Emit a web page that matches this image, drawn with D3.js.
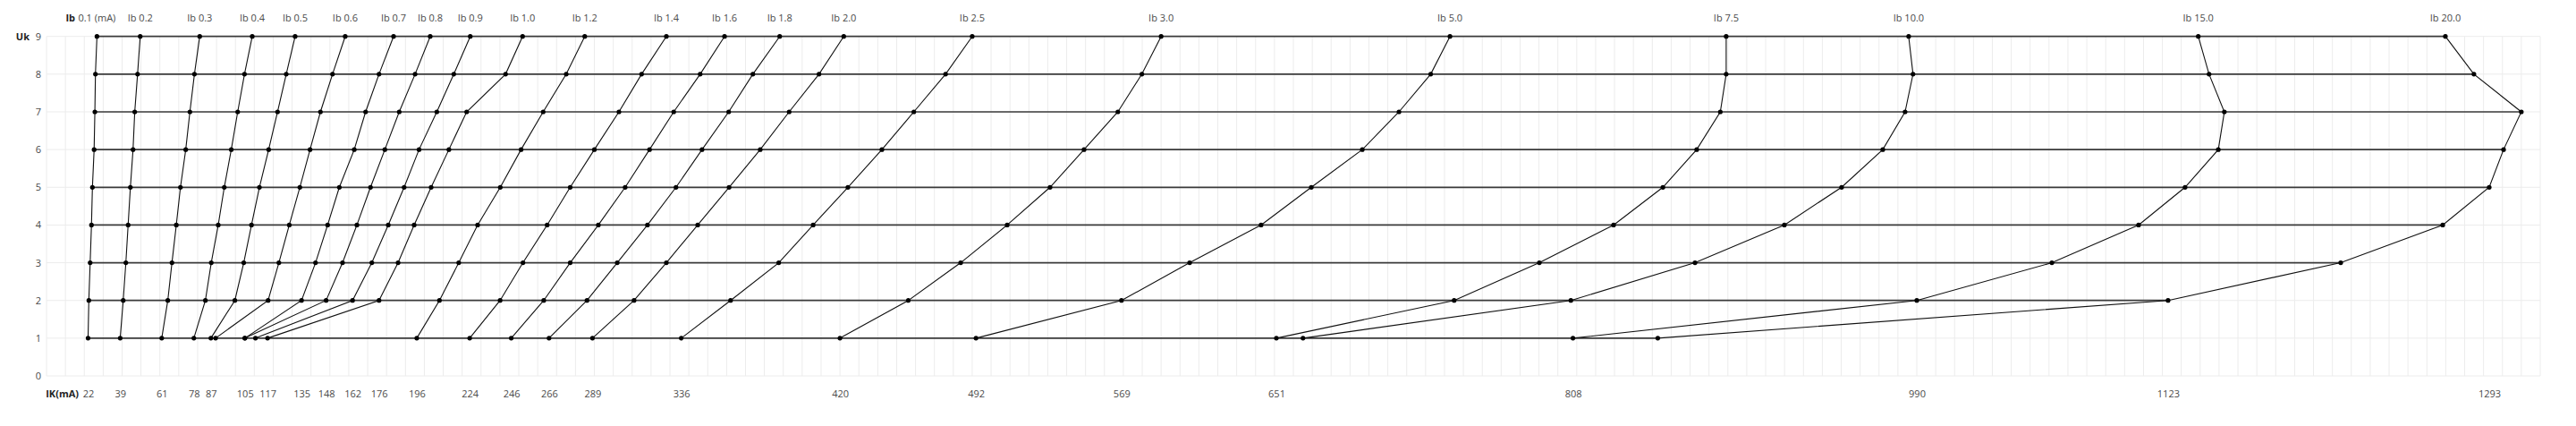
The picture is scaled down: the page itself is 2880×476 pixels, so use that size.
<!DOCTYPE html>
<html>
<head>
<meta charset="utf-8">
<script src="https://cdn.jsdelivr.net/npm/d3@7/dist/d3.min.js"></script>
<style>
  html, body { margin: 0; padding: 0; background: #ffffff; }
  svg { display: block; }
  text { font-family: "Open Sans", "Noto Sans", sans-serif; }
</style>
</head>
<body>
<svg id="chart" width="2880" height="476"></svg>
<script>
// ---- Data (Ik in mA), one array per base current Ib, Uk = 1..9 V ----
const ukLevels = [1, 2, 3, 4, 5, 6, 7, 8, 9];
const ibNames = ["0.1", "0.2", "0.3", "0.4", "0.5", "0.6", "0.7", "0.8", "0.9", "1.0",
                 "1.2", "1.4", "1.6", "1.8", "2.0", "2.5", "3.0", "5.0", "7.5", "10.0", "15.0", "20.0"];

const ib0_1  = [22, 22.4, 23.1, 23.8, 24.3, 25.2, 25.6, 25.9, 26.7];
const ib0_2  = [39, 40.6, 42.0, 43.2, 44.4, 45.8, 46.7, 48.2, 49.6];
const ib0_3  = [61, 64.2, 66.4, 68.7, 70.9, 73.7, 75.9, 78.3, 81.1];
const ib0_4  = [78, 84.1, 87.2, 90.9, 94.1, 97.8, 101.2, 104.8, 108.9];
const ib0_5  = [87, 99.7, 104.4, 108.5, 112.7, 117.6, 122.3, 126.9, 131.6];
const ib0_6  = [89.5, 117.3, 123.0, 128.5, 134.1, 139.5, 145.0, 151.4, 158.1];
const ib0_7  = [105, 135, 142.4, 148.8, 155.0, 162.9, 168.9, 176.0, 183.7];
const ib0_8  = [105, 148, 156.7, 164.3, 171.5, 179.1, 186.7, 195.1, 203.1];
const ib0_9  = [110.6, 162, 172.2, 180.9, 189.3, 197.2, 206.6, 215.6, 224.3];
const ib1_0  = [117, 176, 186.1, 194.6, 203.6, 213.0, 222.4, 243.0, 252.0];
const ib1_2  = [196, 208.0, 218.2, 228.2, 240.2, 251.2, 262.9, 275.1, 284.9];
const ib1_4  = [224, 240.1, 252.2, 265.0, 277.2, 290.0, 303.0, 315.0, 328.1];
const ib1_6  = [246, 263.2, 277.2, 292.1, 306.3, 319.2, 332.0, 346.0, 358.9];
const ib1_8  = [266, 286.1, 302.1, 318.1, 333.2, 347.0, 361.1, 373.9, 388.1];
const ib2_0  = [289, 311.0, 328.1, 344.7, 361.3, 377.8, 393.1, 408.9, 422.0];
const ib2_5  = [336, 362.1, 387.6, 405.8, 424.2, 442.2, 459.1, 475.9, 490.0];
const ib3_0  = [420, 456.2, 483.9, 508.5, 531.2, 549.2, 567.1, 579.8, 590.0];
const ib5_0  = [492, 569, 605.1, 642.9, 669.5, 696.5, 715.9, 732.7, 742.9];
const ib7_5  = [651, 745.1, 790.2, 829.5, 855.6, 873.5, 886.0, 889.1, 889.1];
const ib10_0 = [665.1, 806.9, 872.6, 919.9, 950.2, 972.0, 983.8, 988.0, 985.7];
const ib15_0 = [808, 990, 1061.5, 1107.4, 1132.0, 1149.6, 1152.8, 1144.7, 1139.0];
const ib20_0 = [852.9, 1123, 1214.4, 1268.4, 1293, 1300.6, 1310.0, 1284.9, 1269.8];

// Tick labels on the Ik axis
const ikTicks = [22, 39, 61, 78, 87, 105, 117, 135, 148, 162, 176, 196, 224, 246, 266, 289,
                 336, 420, 492, 569, 651, 808, 990, 1123, 1293];
const ukTicks = [0, 1, 2, 3, 4, 5, 6, 7, 8, 9];

// ---- Build series ----
const ibSeries = [ib0_1, ib0_2, ib0_3, ib0_4, ib0_5, ib0_6, ib0_7, ib0_8, ib0_9, ib1_0,
                  ib1_2, ib1_4, ib1_6, ib1_8, ib2_0, ib2_5, ib3_0, ib5_0, ib7_5, ib10_0, ib15_0, ib20_0]
  .map((vals, i) => ({ name: ibNames[i], pts: vals.map((ik, j) => ({ ik, uk: ukLevels[j] })) }));

const ukSeries = ukLevels.map((uk, j) => ({ uk, pts: ibSeries.map(s => s.pts[j]) }));

// ---- Scales ----
const svg = d3.select("#chart");
const x = d3.scaleLinear().domain([0, 1320]).range([52, 2840]);
const y = d3.scaleLinear().domain([0, 9]).range([420, 40.7]);

const FS = 11;
const labelColor = "#4a4a4a";

// ---- Grid ----
const grid = svg.append("g").attr("class", "grid");
grid.selectAll("line.v").data(d3.range(0, 1321, 10)).join("line")
  .attr("x1", d => x(d)).attr("x2", d => x(d))
  .attr("y1", y(0)).attr("y2", y(9))
  .attr("stroke", "#ececec").attr("stroke-width", 1);
grid.selectAll("line.h").data(ukTicks).join("line")
  .attr("x1", x(0)).attr("x2", x(1320))
  .attr("y1", d => y(d)).attr("y2", d => y(d))
  .attr("stroke", "#ececec").attr("stroke-width", 1);

// ---- Lines ----
const line = d3.line().x(d => x(d.ik)).y(d => y(d.uk));

svg.append("g").selectAll("path").data(ukSeries).join("path")
  .attr("d", d => line(d.pts))
  .attr("fill", "none").attr("stroke", "#3a3a3a").attr("stroke-width", 1.7);

svg.append("g").selectAll("path").data(ibSeries).join("path")
  .attr("d", d => line(d.pts))
  .attr("fill", "none").attr("stroke", "#111").attr("stroke-width", 1.1);

// ---- Points ----
svg.append("g").selectAll("circle").data(ibSeries.flatMap(s => s.pts)).join("circle")
  .attr("cx", d => x(d.ik)).attr("cy", d => y(d.uk)).attr("r", 2.6)
  .attr("fill", "#000");

// ---- Axes (text) ----
const xAxis = d3.axisBottom(x).tickValues(ikTicks).tickSize(0).tickPadding(0).tickFormat(d => d);
const gx = svg.append("g").attr("transform", `translate(0, ${436})`).call(xAxis);
gx.select(".domain").remove();
gx.selectAll("text").attr("fill", labelColor).attr("font-size", FS).attr("dy", "0.71em")
  .attr("font-family", "'Open Sans', sans-serif");

const yAxis = d3.axisLeft(y).tickValues(ukTicks).tickSize(0).tickPadding(0);
const gy = svg.append("g").attr("transform", `translate(${46}, 0)`).call(yAxis);
gy.select(".domain").remove();
gy.selectAll("text").attr("fill", labelColor).attr("font-size", FS)
  .attr("font-family", "'Open Sans', sans-serif");

// Top labels: Ib per series at its Uk = 9 point
svg.append("g").selectAll("text").data(ibSeries).join("text")
  .attr("x", d => x(d.pts[d.pts.length - 1].ik))
  .attr("y", 20).attr("dy", "0.35em")
  .attr("text-anchor", "middle").attr("font-size", FS).attr("fill", labelColor)
  .text((d, i) => i === 0 ? `${d.name} (mA)` : `Ib ${d.name}`);

// Axis names
svg.append("text").attr("x", 84).attr("y", 20).attr("dy", "0.35em")
  .attr("text-anchor", "end").attr("font-size", FS).attr("font-weight", "bold").attr("fill", "#222")
  .text("Ib");
svg.append("text").attr("x", 33).attr("y", y(9)).attr("dy", "0.35em")
  .attr("text-anchor", "end").attr("font-size", FS).attr("font-weight", "bold").attr("fill", "#222")
  .text("Uk");
svg.append("text").attr("x", 88).attr("y", 436).attr("dy", "0.71em")
  .attr("text-anchor", "end").attr("font-size", FS).attr("font-weight", "bold").attr("fill", "#222")
  .text("IK(mA)");
</script>
</body>
</html>
